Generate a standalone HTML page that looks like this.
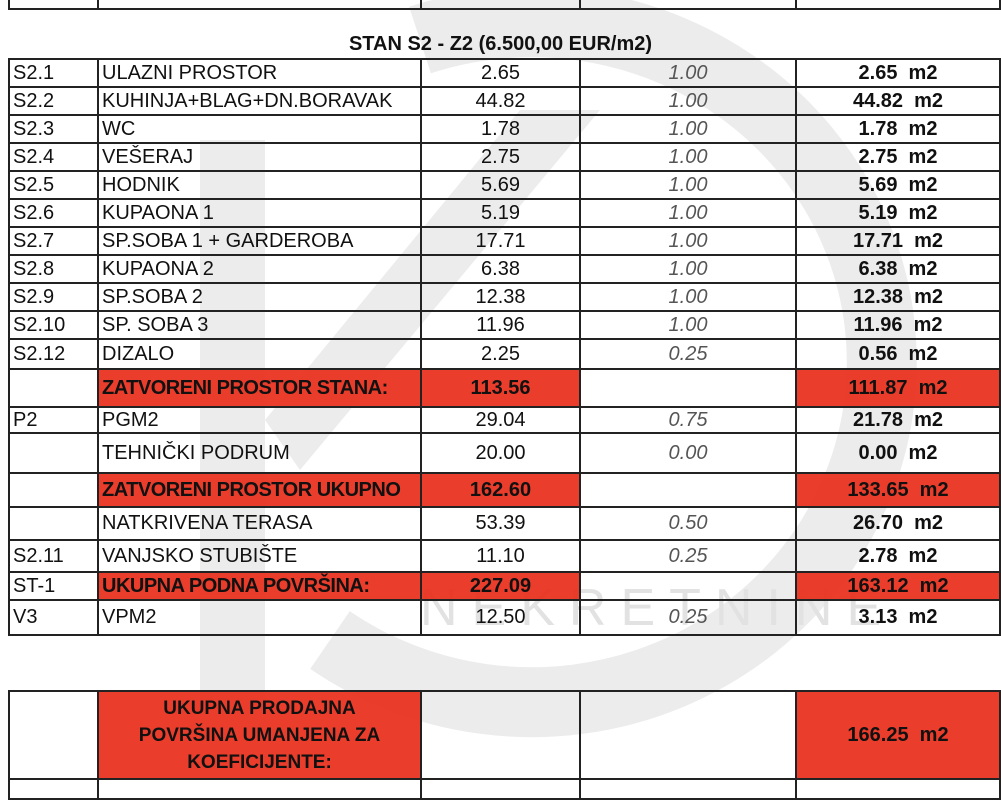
<!DOCTYPE html>
<html><head><meta charset="utf-8"><style>
body{margin:0;width:1001px;height:785px;background:#fff;position:relative;overflow:hidden;font-family:"Liberation Sans",Arial,sans-serif;color:#111}
svg.wm{position:absolute;left:0;top:0}
table{position:absolute;left:8px;border-collapse:collapse;table-layout:fixed}
td{border:2px solid #222;padding:0 3px;font-size:20px;white-space:nowrap;overflow:hidden;vertical-align:middle;background:transparent}
td.c{text-align:center}
td.i{text-align:center;font-style:italic;color:#555}
td.b{text-align:center;font-weight:bold}
td.r{background:rgba(232,46,28,0.93)}
td.lb{font-weight:bold;letter-spacing:-0.5px}
.h{position:absolute;left:0;width:1001px;top:33px;text-align:center;font-weight:bold;font-size:20px}
</style></head><body>
<svg class="wm" width="1001" height="785">
<path d="M 420 40 A 350 340 0 1 1 330 640" fill="none" stroke="#ececec" stroke-width="70"/>
<polygon points="200,140 265,140 265,700 200,700" fill="#ececec"/>
<polygon points="265,420 520,110 600,110 300,470" fill="#ececec"/>
<text x="420" y="625" font-family="Liberation Sans" font-size="52" fill="#e2e2e2" letter-spacing="14">NEKRETNINE</text>
</svg>
<table style="top:-20px;width:991px"><colgroup><col style="width:89px"><col style="width:323px"><col style="width:159px"><col style="width:216px"><col style="width:204px"></colgroup>
<tr style="height:28px"><td></td><td></td><td></td><td></td><td></td></tr></table>
<div class="h">STAN S2 - Z2 (6.500,00 EUR/m2)</div>
<table style="top:58px;width:991px"><colgroup><col style="width:89px"><col style="width:323px"><col style="width:159px"><col style="width:216px"><col style="width:204px"></colgroup>
<tr style="height:28px"><td>S2.1</td><td>ULAZNI PROSTOR</td><td class="c">2.65</td><td class="i">1.00</td><td class="b">2.65&nbsp; m2</td></tr>
<tr style="height:28px"><td>S2.2</td><td>KUHINJA+BLAG+DN.BORAVAK</td><td class="c">44.82</td><td class="i">1.00</td><td class="b">44.82&nbsp; m2</td></tr>
<tr style="height:28px"><td>S2.3</td><td>WC</td><td class="c">1.78</td><td class="i">1.00</td><td class="b">1.78&nbsp; m2</td></tr>
<tr style="height:28px"><td>S2.4</td><td>VEŠERAJ</td><td class="c">2.75</td><td class="i">1.00</td><td class="b">2.75&nbsp; m2</td></tr>
<tr style="height:28px"><td>S2.5</td><td>HODNIK</td><td class="c">5.69</td><td class="i">1.00</td><td class="b">5.69&nbsp; m2</td></tr>
<tr style="height:28px"><td>S2.6</td><td>KUPAONA 1</td><td class="c">5.19</td><td class="i">1.00</td><td class="b">5.19&nbsp; m2</td></tr>
<tr style="height:28px"><td>S2.7</td><td>SP.SOBA 1 + GARDEROBA</td><td class="c">17.71</td><td class="i">1.00</td><td class="b">17.71&nbsp; m2</td></tr>
<tr style="height:28px"><td>S2.8</td><td>KUPAONA 2</td><td class="c">6.38</td><td class="i">1.00</td><td class="b">6.38&nbsp; m2</td></tr>
<tr style="height:28px"><td>S2.9</td><td>SP.SOBA 2</td><td class="c">12.38</td><td class="i">1.00</td><td class="b">12.38&nbsp; m2</td></tr>
<tr style="height:28px"><td>S2.10</td><td>SP. SOBA 3</td><td class="c">11.96</td><td class="i">1.00</td><td class="b">11.96&nbsp; m2</td></tr>
<tr style="height:30px"><td>S2.12</td><td>DIZALO</td><td class="c">2.25</td><td class="i">0.25</td><td class="b">0.56&nbsp; m2</td></tr>
<tr style="height:38px"><td></td><td class="r lb">ZATVORENI PROSTOR STANA:</td><td class="r b">113.56</td><td></td><td class="r b">111.87&nbsp; m2</td></tr>
<tr style="height:26px"><td>P2</td><td>PGM2</td><td class="c">29.04</td><td class="i">0.75</td><td class="b">21.78&nbsp; m2</td></tr>
<tr style="height:40px"><td></td><td>TEHNIČKI PODRUM</td><td class="c">20.00</td><td class="i">0.00</td><td class="b">0.00&nbsp; m2</td></tr>
<tr style="height:34px"><td></td><td class="r lb">ZATVORENI PROSTOR UKUPNO</td><td class="r b">162.60</td><td></td><td class="r b">133.65&nbsp; m2</td></tr>
<tr style="height:33px"><td></td><td>NATKRIVENA TERASA</td><td class="c">53.39</td><td class="i">0.50</td><td class="b">26.70&nbsp; m2</td></tr>
<tr style="height:32px"><td>S2.11</td><td>VANJSKO STUBIŠTE</td><td class="c">11.10</td><td class="i">0.25</td><td class="b">2.78&nbsp; m2</td></tr>
<tr style="height:28px"><td>ST-1</td><td class="r lb">UKUPNA PODNA POVRŠINA:</td><td class="r b">227.09</td><td></td><td class="r b">163.12&nbsp; m2</td></tr>
<tr style="height:35px"><td>V3</td><td>VPM2</td><td class="c">12.50</td><td class="i">0.25</td><td class="b">3.13&nbsp; m2</td></tr>
</table>
<table style="top:690px;width:991px"><colgroup><col style="width:89px"><col style="width:323px"><col style="width:159px"><col style="width:216px"><col style="width:204px"></colgroup>
<tr style="height:88px"><td></td><td class="r b" style="white-space:normal;line-height:27px;font-size:19px">UKUPNA PRODAJNA<br>POVRŠINA UMANJENA ZA<br>KOEFICIJENTE:</td><td></td><td></td><td class="r b">166.25&nbsp; m2</td></tr>
<tr style="height:20px"><td></td><td></td><td></td><td></td><td></td></tr>
</table>
</body></html>
